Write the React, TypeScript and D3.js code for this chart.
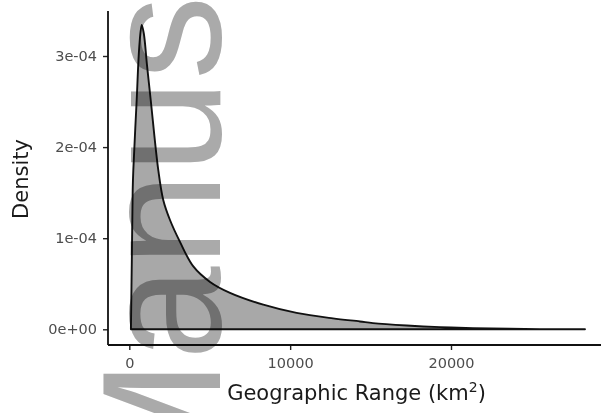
import React, { useEffect, useRef } from "react";
import * as d3 from "d3";

// geographic range (km^2) and kernel density
const rangeKm = [
  100, 160, 211, 250, 460, 620, 771, 900, 1100, 1330, 1800, 2110, 2530, 3150,
  3980, 5020, 6260, 8330, 10400, 12660, 14340, 15150, 17250, 19320, 21370,
  25530, 28330,
];
const density = [
  0, 0.8e-4, 1.53e-4, 1.75e-4, 2.52e-4, 3.1e-4, 3.34e-4, 3.25e-4, 2.9e-4,
  2.52e-4, 1.75e-4, 1.42e-4, 1.2e-4, 0.96e-4, 0.69e-4, 0.52e-4, 0.4e-4,
  0.27e-4, 0.18e-4, 0.12e-4, 0.086e-4, 0.068e-4, 0.042e-4, 0.024e-4,
  0.013e-4, 0.002e-4, 0,
];
const xTicks = [0, 10000, 20000];
const yTicks = [0, 1e-4, 2e-4, 3e-4];
const yTickLabels = ["0e+00", "1e-04", "2e-04", "3e-04"];

const W = 601;
const H = 413;
const panel = { left: 108, right: 601, top: 11, bottom: 345 };

export default function App() {
  const ref = useRef<SVGSVGElement>(null);

  useEffect(() => {
    const svg = d3.select(ref.current);
    svg.selectAll("*").remove();

    const x = d3.scaleLinear().domain([0, 20000]).range([129.3, 451]);
    const y = d3.scaleLinear().domain([0, 3e-4]).range([329.3, 56]);

    const pts: [number, number][] = rangeKm.map((r, i) => [r, density[i]]);

    const area = d3
      .area<[number, number]>()
      .x((d) => x(d[0]))
      .y0(y(0))
      .y1((d) => y(d[1]))
      .curve(d3.curveCatmullRom.alpha(0.5));

    svg
      .append("path")
      .attr("d", area(pts))
      .attr("fill", "#a8a8a8")
      .attr("stroke", "#111")
      .attr("stroke-width", 1.9)
      .attr("stroke-linejoin", "round");

    // axes
    const yAxis = svg
      .append("g")
      .attr("transform", `translate(${panel.left},0)`)
      .call(
        d3
          .axisLeft(y)
          .tickValues(yTicks)
          .tickFormat((_, i) => yTickLabels[i])
          .tickSize(5)
          .tickPadding(6)
      );
    const xAxis = svg
      .append("g")
      .attr("transform", `translate(0,${panel.bottom})`)
      .call(
        d3
          .axisBottom(x)
          .tickValues(xTicks)
          .tickFormat(d3.format("d"))
          .tickSize(5)
          .tickPadding(8)
      );

    [xAxis, yAxis].forEach((g) => {
      g.select(".domain").remove();
      g.selectAll("line").attr("stroke", "#222").attr("stroke-width", 1.4);
      g.selectAll("text")
        .attr("fill", "#4d4d4d")
        .style("font-family", "DejaVu Sans")
        .style("font-size", "14.5px");
    });

    svg
      .append("line")
      .attr("x1", panel.left)
      .attr("x2", panel.left)
      .attr("y1", panel.top)
      .attr("y2", panel.bottom)
      .attr("stroke", "#111")
      .attr("stroke-width", 1.8);
    svg
      .append("line")
      .attr("x1", panel.left)
      .attr("x2", panel.right)
      .attr("y1", panel.bottom)
      .attr("y2", panel.bottom)
      .attr("stroke", "#111")
      .attr("stroke-width", 1.8);

    // titles
    const xt = svg
      .append("text")
      .attr("x", 356.5)
      .attr("y", 400)
      .attr("text-anchor", "middle")
      .attr("fill", "#1a1a1a")
      .style("font-family", "DejaVu Sans")
      .style("font-size", "21px")
      .text("Geographic Range (km");
    xt.append("tspan")
      .attr("dy", -8)
      .style("font-size", "14px")
      .text("2");
    xt.append("tspan").attr("dy", 8).text(")");

    svg
      .append("text")
      .attr("transform", "translate(28,179) rotate(-90)")
      .attr("text-anchor", "middle")
      .attr("fill", "#1a1a1a")
      .style("font-family", "DejaVu Sans")
      .style("font-size", "21px")
      .text("Density");

    // manuscript watermark, partly off the page as in the source
    svg
      .append("text")
      .attr("transform", "translate(220,500) rotate(-90)")
      .attr("fill", "#aaaaaa")
      .style("mix-blend-mode", "multiply")
      .style("font-family", "Liberation Sans")
      .style("font-size", "168px")
      .text("Manus");
  }, []);

  return (
    <svg
      ref={ref}
      width={W}
      height={H}
      style={{ position: "absolute", left: 0, top: 0, background: "#fff" }}
    />
  );
}
